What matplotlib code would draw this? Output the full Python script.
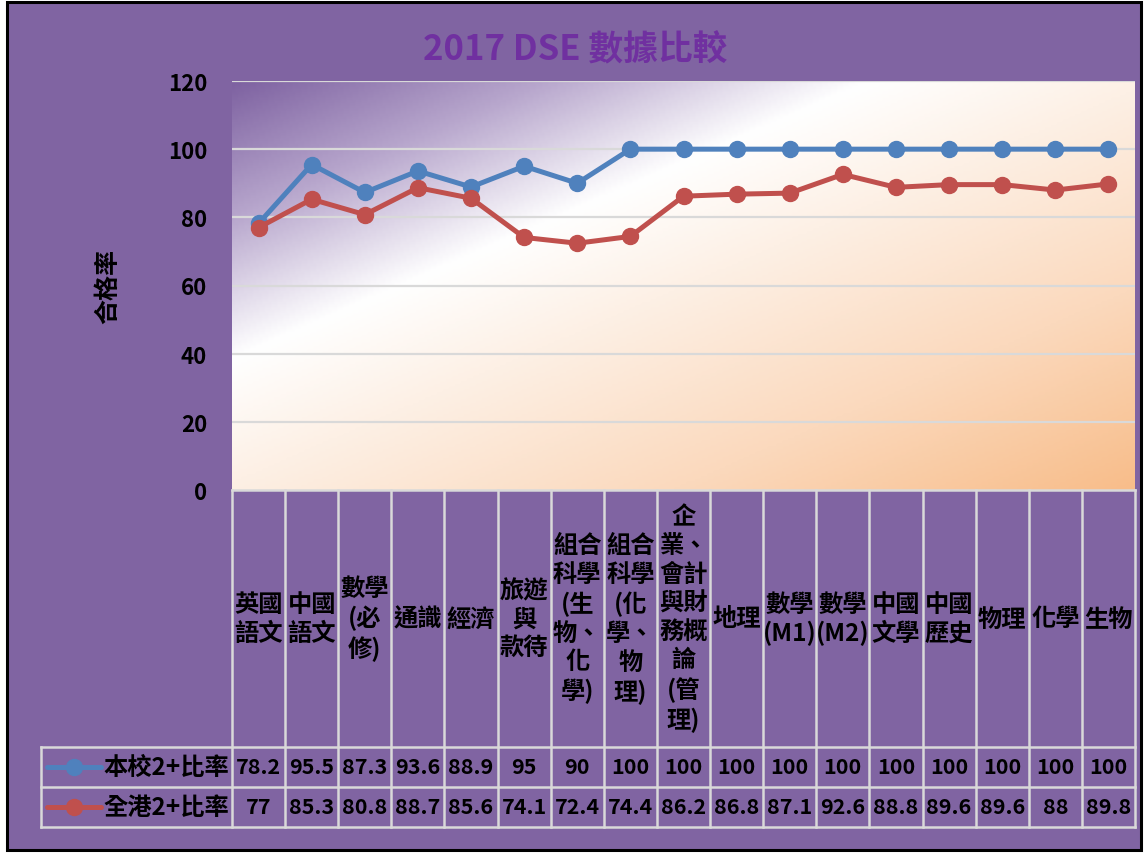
import numpy as np
import matplotlib.pyplot as plt
import matplotlib.transforms as mtransforms
from matplotlib.colors import LinearSegmentedColormap
from matplotlib.patches import Rectangle
from matplotlib.lines import Line2D

plt.rcParams['font.family'] = ['Noto Sans CJK TC', 'DejaVu Sans']

# 科目
subjects = ["英國\n語文", "中國\n語文", "數學\n(必\n修)", "通識", "經濟",
            "旅遊\n與\n款待", "組合\n科學\n(生\n物、\n化\n學)",
            "組合\n科學\n(化\n學、\n物\n理)",
            "企\n業、\n會計\n與財\n務概\n論\n(管\n理)",
            "地理", "數學\n(M1)", "數學\n(M2)", "中國\n文學", "中國\n歷史",
            "物理", "化學", "生物"]

school = [78.2, 95.5, 87.3, 93.6, 88.9, 95, 90, 100, 100, 100, 100, 100,
          100, 100, 100, 100, 100]
hk = [77, 85.3, 80.8, 88.7, 85.6, 74.1, 72.4, 74.4, 86.2, 86.8, 87.1, 92.6,
      88.8, 89.6, 89.6, 88, 89.8]

school_lbl = ["78.2", "95.5", "87.3", "93.6", "88.9", "95", "90", "100", "100",
              "100", "100", "100", "100", "100", "100", "100", "100"]
hk_lbl = ["77", "85.3", "80.8", "88.7", "85.6", "74.1", "72.4", "74.4", "86.2",
          "86.8", "87.1", "92.6", "88.8", "89.6", "89.6", "88", "89.8"]

series_names = ["本校2+比率", "全港2+比率"]
yticks = [0, 20, 40, 60, 80, 100, 120]

BLUE = "#4F81BD"
RED = "#C0504D"
PURPLE_BG = "#8064A2"
GRID = "#D9D9D9"

W, H = 1147, 854
fig = plt.figure(figsize=(W / 100, H / 100), dpi=100)
fig.patch.set_facecolor("white")

# 外框
fig.patches.append(Rectangle((7 / W, 3 / H), (1141 - 7) / W, (851 - 3) / H,
                             transform=fig.transFigure, facecolor=PURPLE_BG,
                             edgecolor="black", linewidth=2.2, zorder=-10))

px_l, px_r, px_t, px_b = 232, 1135, 82, 491
ax = fig.add_axes([px_l / W, 1 - px_b / H, (px_r - px_l) / W, (px_b - px_t) / H])
ax.set_zorder(1)
n = len(subjects)
x = np.arange(n)
ax.set_xlim(-0.5, n - 0.5)
ax.set_ylim(0, 120)

# 漸層背景 (左上紫 -> 白 -> 右下橙)
pw, ph = px_r - px_l, px_b - px_t
gx, gy = np.meshgrid(np.linspace(0, pw, 300), np.linspace(0, ph, 150))
s = (0.437 * gx + gy) / (0.437 * pw + ph)
cmap = LinearSegmentedColormap.from_list("bg", [
    (0.0, "#7E62A1"), (0.17, "#B8A7CD"), (0.345, "#FFFFFF"),
    (0.5, "#FDF0E5"), (0.75, "#FBD9BD"), (1.0, "#F8BD8A")])
ax.imshow(s, cmap=cmap, extent=(-0.5, n - 0.5, 0, 120), origin="upper",
          aspect="auto", zorder=0, vmin=0, vmax=1)
ax.set_ylim(0, 120)
ax.patch.set_visible(False)

for yt in yticks[1:]:
    ax.axhline(yt, color=GRID, lw=1.6, zorder=1)

ax.plot(x, school, color=BLUE, lw=3.6, marker="o", ms=11.5, zorder=3,
        solid_capstyle="round")
ax.plot(x, hk, color=RED, lw=3.6, marker="o", ms=11.5, zorder=3,
        solid_capstyle="round")

for sp in ax.spines.values():
    sp.set_visible(False)
ax.set_yticks(yticks)
ax.set_yticklabels([str(v) for v in yticks], fontsize=16, fontweight="bold")
ax.tick_params(axis="y", length=0, pad=18)
ax.set_xticks([])
ax.set_ylabel("合格率", fontsize=18, fontweight="bold", labelpad=34)

fig.text(575 / W, 1 - 50 / H, "2017 DSE 數據比較", ha="center", va="center",
         fontsize=25, fontweight="bold", color="#7030A0")

# 資料表
tr = mtransforms.blended_transform_factory(ax.transData, ax.transAxes)
def ay(py):
    return -(py - px_b) / ph

y_top, y_r1, y_r2, y_bot = ay(491), ay(748), ay(788), ay(828)
colw = pw / n
x_leg = -0.5 - (px_l - 41) / colw

def seg(xs, ys):
    ax.add_line(Line2D(xs, ys, transform=tr, color=GRID, lw=1.8,
                       clip_on=False, zorder=5))

seg([-0.5, n - 0.5], [y_top, y_top])
seg([x_leg, n - 0.5], [y_r1, y_r1])
seg([x_leg, n - 0.5], [y_r2, y_r2])
seg([x_leg, n - 0.5], [y_bot, y_bot])
seg([x_leg, x_leg], [y_r1, y_bot])
for i in range(n + 1):
    seg([i - 0.5, i - 0.5], [y_top, y_bot])

cat_mid = (y_top + y_r1) / 2
for i, lab in enumerate(subjects):
    ax.text(i, cat_mid, lab, transform=tr, ha="center", va="center",
            fontsize=17.5, fontweight="bold", linespacing=1.24, clip_on=False)

row1 = (y_r1 + y_r2) / 2
row2 = (y_r2 + y_bot) / 2
for i in range(n):
    ax.text(i, row1, school_lbl[i], transform=tr, ha="center", va="center",
            fontsize=15.5, fontweight="bold", clip_on=False)
    ax.text(i, row2, hk_lbl[i], transform=tr, ha="center", va="center",
            fontsize=15.5, fontweight="bold", clip_on=False)

lx0 = -0.5 - (px_l - 47) / colw
lx1 = -0.5 - (px_l - 101) / colw
lxm = (lx0 + lx1) / 2
ltx = -0.5 - (px_l - 103) / colw
for yy, col, name in [(row1, BLUE, series_names[0]), (row2, RED, series_names[1])]:
    ax.add_line(Line2D([lx0, lx1], [yy, yy], transform=tr, color=col, lw=3.6,
                       clip_on=False, zorder=6, solid_capstyle="round"))
    ax.add_line(Line2D([lxm], [yy], transform=tr, color=col, marker="o",
                       ms=11.5, clip_on=False, zorder=6))
    ax.text(ltx, yy, name, transform=tr, ha="left", va="center", fontsize=17.5,
            fontweight="bold", clip_on=False)

fig.savefig("out.png", dpi=100, facecolor=fig.get_facecolor())
